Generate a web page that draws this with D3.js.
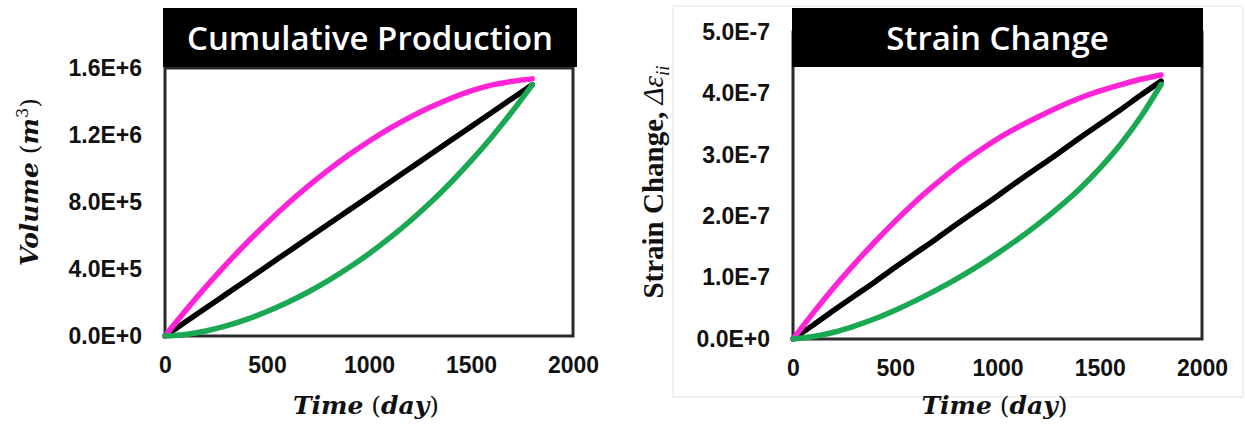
<!DOCTYPE html>
<html>
<head>
<meta charset="utf-8">
<script src="https://cdn.jsdelivr.net/npm/d3@7"></script>
<style>
  html, body { margin: 0; padding: 0; background: #fff; }
  svg { display: block; }
</style>
</head>
<body>
<svg id="fig" width="1245" height="424"></svg>
<script>
// Time axis samples (days)
const days = [0, 100, 200, 300, 400, 500, 600, 700, 800, 900, 1000,
              1100, 1200, 1300, 1400, 1500, 1600, 1700, 1800];

// Cumulative production, m^3
const volumePink  = [0, 1.50e5, 2.93e5, 4.28e5, 5.55e5, 6.75e5, 7.88e5, 8.93e5, 9.90e5, 1.080e6,
                     1.163e6, 1.238e6, 1.305e6, 1.365e6, 1.418e6, 1.463e6, 1.498e6, 1.520e6, 1.535e6];
const volumeBlack = [0, 0.83e5, 1.67e5, 2.50e5, 3.33e5, 4.17e5, 5.00e5, 5.83e5, 6.67e5, 7.50e5,
                     8.33e5, 9.17e5, 1.000e6, 1.083e6, 1.167e6, 1.250e6, 1.333e6, 1.417e6, 1.500e6];
const volumeGreen = [0, 0.09e5, 0.30e5, 0.60e5, 0.99e5, 1.46e5, 2.00e5, 2.61e5, 3.30e5, 4.07e5,
                     4.91e5, 5.84e5, 6.85e5, 7.95e5, 9.15e5, 1.045e6, 1.185e6, 1.337e6, 1.500e6];

// Volumetric strain change
const strainPink  = [0, 0.43e-7, 0.84e-7, 1.22e-7, 1.58e-7, 1.92e-7, 2.24e-7, 2.53e-7, 2.80e-7, 3.04e-7,
                     3.26e-7, 3.45e-7, 3.62e-7, 3.78e-7, 3.92e-7, 4.04e-7, 4.14e-7, 4.23e-7, 4.30e-7];
const strainBlack = [0, 0.23e-7, 0.47e-7, 0.70e-7, 0.93e-7, 1.17e-7, 1.40e-7, 1.63e-7, 1.87e-7, 2.10e-7,
                     2.33e-7, 2.57e-7, 2.80e-7, 3.03e-7, 3.27e-7, 3.50e-7, 3.73e-7, 3.97e-7, 4.20e-7];
const strainGreen = [0, 0.04e-7, 0.11e-7, 0.21e-7, 0.33e-7, 0.47e-7, 0.625e-7, 0.795e-7, 0.98e-7, 1.18e-7,
                     1.395e-7, 1.625e-7, 1.875e-7, 2.145e-7, 2.44e-7, 2.78e-7, 3.165e-7, 3.615e-7, 4.145e-7];

// Axis ticks
const timeTicks   = [0, 500, 1000, 1500, 2000];
const volumeTicks = [0, 4e5, 8e5, 1.2e6, 1.6e6];
const strainTicks = [0, 1e-7, 2e-7, 3e-7, 4e-7, 5e-7];

const titles = ["Cumulative Production", "Strain Change"];
const seriesColors = { pink: "#ff24d6", black: "#000000", green: "#1aa852" };

// Scientific tick labels such as 1.6E+6 / 4.0E-7
function sci(v) {
  if (v === 0) return "0.0E+0";
  const e = Math.floor(Math.log10(Math.abs(v)) + 1e-9);
  const m = v / Math.pow(10, e);
  return m.toFixed(1) + "E" + (e >= 0 ? "+" : "-") + Math.abs(e);
}

const svg = d3.select("#fig");

// faint frame around the right-hand panel
svg.append("rect")
  .attr("x", 673).attr("y", 6).attr("width", 570).attr("height", 391)
  .attr("fill", "none").attr("stroke", "#ededed").attr("stroke-width", 1.5);

function panel(cfg) {
  const g = svg.append("g");
  const x = d3.scaleLinear().domain([0, 2000]).range([cfg.left, cfg.right]);
  const y = d3.scaleLinear().domain([0, cfg.yMax]).range([cfg.bottom, cfg.top]);

  // plot frame
  g.append("rect")
    .attr("x", cfg.left).attr("y", cfg.top)
    .attr("width", cfg.right - cfg.left).attr("height", cfg.bottom - cfg.top)
    .attr("fill", "#fff").attr("stroke", "#2a2a2a").attr("stroke-width", 3);

  // y axis labels
  const ya = g.append("g").attr("transform", `translate(${cfg.left},0)`)
    .call(d3.axisLeft(y).tickValues(cfg.yTicks).tickFormat(sci).tickSize(0).tickPadding(23));
  ya.select(".domain").remove();
  ya.selectAll("text")
    .attr("font-family", "'Liberation Sans', Arial, sans-serif")
    .attr("font-weight", "bold").attr("font-size", 23).attr("fill", "#111");

  // x axis labels
  const xa = g.append("g").attr("transform", `translate(0,${cfg.bottom})`)
    .call(d3.axisBottom(x).tickValues(timeTicks).tickFormat(d3.format("d")).tickSize(0).tickPadding(21));
  xa.select(".domain").remove();
  xa.selectAll("text")
    .attr("font-family", "'Liberation Sans', Arial, sans-serif")
    .attr("font-weight", "bold").attr("font-size", 23).attr("fill", "#111");

  // curves
  const line = d3.line().x((d, i) => x(days[i])).y(d => y(d)).curve(d3.curveMonotoneX);
  [["black", cfg.black], ["pink", cfg.pink], ["green", cfg.green]].forEach(([k, vals]) => {
    g.append("path").datum(vals)
      .attr("d", line)
      .attr("fill", "none")
      .attr("stroke", seriesColors[k])
      .attr("stroke-width", 5.5)
      .attr("stroke-linecap", "round")
      .attr("stroke-linejoin", "round");
  });

  // title band
  g.append("rect")
    .attr("x", cfg.bandLeft).attr("y", 8)
    .attr("width", cfg.bandRight - cfg.bandLeft).attr("height", 59)
    .attr("fill", "#000");
  g.append("text")
    .attr("x", (cfg.bandLeft + cfg.bandRight) / 2).attr("y", 50)
    .attr("text-anchor", "middle")
    .attr("font-family", "'Open Sans', 'Noto Sans', sans-serif")
    .attr("font-weight", 600).attr("font-size", 33).attr("fill", "#fff")
    .text(cfg.title);

  // x axis title: Time (day)
  const xt = g.append("text")
    .attr("x", (cfg.left + cfg.right) / 2 - 3).attr("y", 414)
    .attr("text-anchor", "middle")
    .attr("font-family", "'DejaVu Serif', serif")
    .attr("font-size", 25).attr("fill", "#111");
  xt.append("tspan").attr("font-style", "italic").attr("font-weight", "bold").text("Time");
  xt.append("tspan").text(" (");
  xt.append("tspan").attr("font-style", "italic").attr("font-weight", "bold").text("day");
  xt.append("tspan").text(")");

  return g;
}

panel({
  left: 165, right: 573, top: 68, bottom: 336, yMax: 1.6e6,
  bandLeft: 163, bandRight: 577, title: titles[0], yTicks: volumeTicks,
  pink: volumePink, black: volumeBlack, green: volumeGreen
});

panel({
  left: 793, right: 1202, top: 32, bottom: 339, yMax: 5e-7,
  bandLeft: 792, bandRight: 1203, title: titles[1], yTicks: strainTicks,
  pink: strainPink, black: strainBlack, green: strainGreen
});

// y axis title, left: Volume (m^3)
const yl = svg.append("text")
  .attr("transform", "translate(38,182) rotate(-90)")
  .attr("text-anchor", "middle")
  .attr("font-family", "'DejaVu Serif', serif")
  .attr("font-size", 25).attr("fill", "#111");
yl.append("tspan").attr("font-style", "italic").attr("font-weight", "bold").text("Volume");
yl.append("tspan").text(" (");
yl.append("tspan").attr("font-style", "italic").attr("font-weight", "bold").text("m");
yl.append("tspan").attr("font-size", 16).attr("dy", -10).text("3");
yl.append("tspan").attr("dy", 10).text(")");

// y axis title, right: Strain Change, Δε_ii
const yr = svg.append("text")
  .attr("transform", "translate(663,182) rotate(-90)")
  .attr("text-anchor", "middle")
  .attr("font-family", "'Liberation Serif', 'DejaVu Serif', serif")
  .attr("font-size", 29).attr("fill", "#111");
yr.append("tspan").attr("font-weight", "bold").text("Strain Change, ");
yr.append("tspan").attr("font-style", "italic").text("Δε");
yr.append("tspan").attr("font-style", "italic").attr("font-size", 19).attr("dy", 6).text("ii");
</script>
</body>
</html>
